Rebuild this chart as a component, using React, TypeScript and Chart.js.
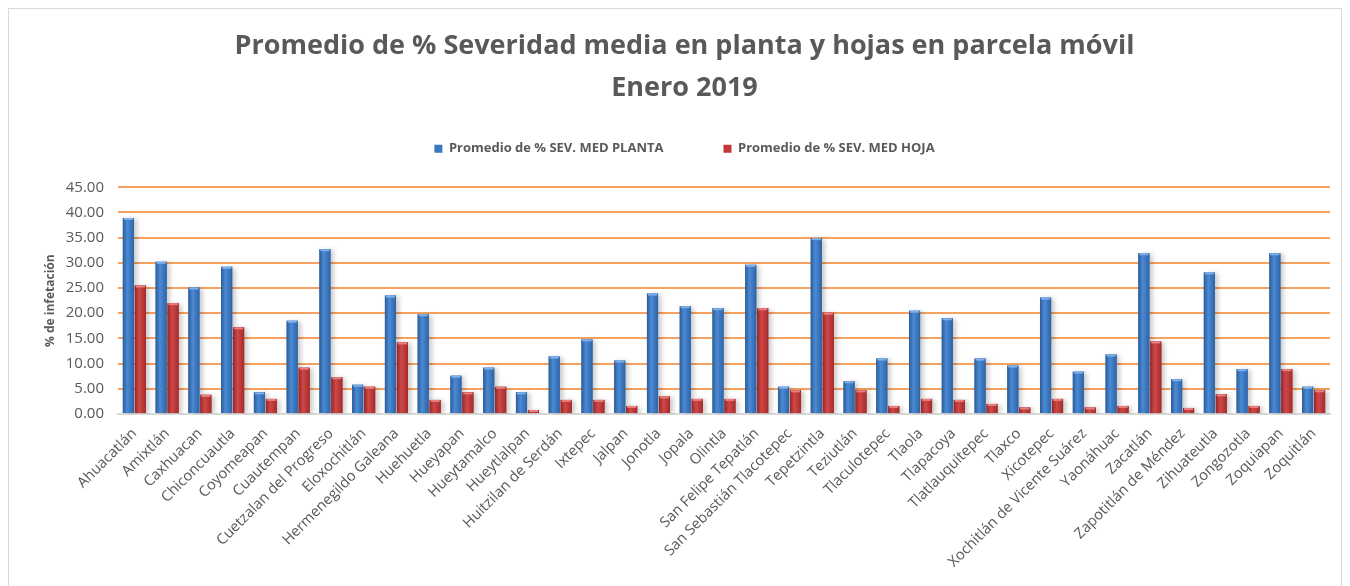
import React, { useEffect, useRef } from "react";
import { Chart, registerables } from "chart.js";

Chart.register(...registerables);

const categories: string[] = [
  "Ahuacatlán", "Amixtlán", "Caxhuacan", "Chiconcuautla", "Coyomeapan", "Cuautempan",
  "Cuetzalan del Progreso", "Eloxochitlán", "Hermenegildo Galeana", "Huehuetla", "Hueyapan",
  "Hueytamalco", "Hueytlalpan", "Huitzilan de Serdán", "Ixtepec", "Jalpan", "Jonotla", "Jopala",
  "Olintla", "San Felipe Tepatlán", "San Sebastián Tlacotepec", "Tepetzintla", "Teziutlán",
  "Tlaculotepec", "Tlaola", "Tlapacoya", "Tlatlauquitepec", "Tlaxco", "Xicotepec",
  "Xochitlán de Vicente Suárez", "Yaonáhuac", "Zacatlán", "Zapotitlán de Méndez", "Zihuateutla",
  "Zongozotla", "Zoquiapan", "Zoquitlán",
];

const sevPlanta: number[] = [
  38.9, 30.2, 25.1, 29.2, 4.3, 18.5, 32.7, 5.8, 23.5, 19.8, 7.6, 9.2, 4.3, 11.4, 14.8, 10.6,
  23.9, 21.4, 21.0, 29.6, 5.4, 34.9, 6.5, 11.0, 20.5, 19.0, 11.0, 9.6, 23.1, 8.4, 11.8, 31.9,
  6.9, 28.1, 8.9, 31.9, 5.4,
];

const sevHoja: number[] = [
  25.5, 22.0, 3.8, 17.2, 3.0, 9.2, 7.3, 5.4, 14.2, 2.8, 4.3, 5.4, 0.8, 2.8, 2.8, 1.6, 3.5, 3.0,
  3.0, 21.0, 4.7, 20.1, 4.7, 1.6, 3.0, 2.8, 2.0, 1.3, 3.0, 1.3, 1.6, 14.4, 1.2, 3.9, 1.6, 8.9, 4.7,
];

const seriesNames: string[] = ["Promedio de % SEV. MED PLANTA", "Promedio de % SEV. MED HOJA"];
const titleLines: string[] = ["Promedio de % Severidad media en planta y hojas en parcela móvil", "Enero 2019"];
const yAxisTitle = "% de infetación";

const FONT = "'Open Sans', 'DejaVu Sans', sans-serif";
const TEXT = "#595959";

const LEGEND_ITEM_GAP = 60;
const LEGEND_VPAD = 10;

const barColors = [
  { edge: "#2a5c99", mid: "#4b8ad3", right: "#2d63a6", top: "#7fb0e8" },
  { edge: "#962626", mid: "#d04848", right: "#a42b2b", top: "#e88080" },
];

const shadowPlugin = {
  id: "barShadow",
  beforeDatasetsDraw(chart: any) {
    const ctx = chart.ctx;
    ctx.save();
    ctx.shadowColor = "rgba(0,0,0,0.22)";
    ctx.shadowBlur = 5;
    ctx.shadowOffsetX = 3;
    ctx.shadowOffsetY = 1;
  },
  afterDatasetsDraw(chart: any) {
    const ctx = chart.ctx;
    ctx.restore();
    chart.data.datasets.forEach((_: any, di: number) => {
      const meta = chart.getDatasetMeta(di);
      const c = barColors[di];
      meta.data.forEach((el: any) => {
        const { x, y, base, width } = el.getProps(["x", "y", "base", "width"], true);
        const left = x - width / 2;
        const g = ctx.createLinearGradient(left, 0, left + width, 0);
        g.addColorStop(0, c.edge);
        g.addColorStop(0.4, c.mid);
        g.addColorStop(1, c.right);
        ctx.fillStyle = g;
        ctx.fillRect(left, y, width, base - y);
        ctx.fillStyle = c.top;
        ctx.fillRect(left + 1, y, width - 2, Math.min(2, base - y));
      });
    });
  },
};

// Legend: wide horizontal spacing between items, but compact vertical size.
const legendGapPlugin = {
  id: "legendGap",
  beforeLayout(chart: any) {
    const lg = chart.legend;
    if (lg && !lg._gapPatched) {
      const origFit = lg.fit;
      lg.fit = function () {
        origFit.call(this);
        this.height = 13 + LEGEND_VPAD * 2 + 22;
      };
      const origDraw = lg.draw;
      lg.draw = function () {
        const t = this.top;
        this.top = t - (LEGEND_ITEM_GAP - LEGEND_VPAD);
        origDraw.call(this);
        this.top = t;
      };
      lg._gapPatched = true;
    }
  },
};

export default function App() {
  const ref = useRef<HTMLCanvasElement | null>(null);

  useEffect(() => {
    document.documentElement.style.overflow = "hidden";
    document.body.style.overflow = "hidden";
    if (!ref.current) return;
    const chart = new Chart(ref.current, {
      type: "bar",
      data: {
        labels: categories,
        datasets: [
          { label: seriesNames[0], data: sevPlanta, backgroundColor: "#3a78c2", borderWidth: 0 },
          { label: seriesNames[1], data: sevHoja, backgroundColor: "#b93333", borderWidth: 0 },
        ],
      },
      options: {
        animation: false,
        responsive: true,
        maintainAspectRatio: false,
        layout: { padding: { left: 30, right: 11, top: 0, bottom: 0 } },
        datasets: { bar: { categoryPercentage: 0.73, barPercentage: 0.93 } },
        plugins: {
          tooltip: { enabled: false },
          title: {
            display: true,
            text: titleLines,
            color: TEXT,
            font: { family: FONT, size: 27, weight: "bold", lineHeight: 1.56 },
            padding: { top: 16, bottom: 23 },
          },
          legend: {
            display: true,
            labels: {
              boxWidth: 8,
              boxHeight: 8,
              padding: LEGEND_ITEM_GAP,
              color: TEXT,
              font: { family: FONT, size: 13, weight: "bold" },
              generateLabels: (ch: any) =>
                ch.data.datasets.map((ds: any, i: number) => ({
                  text: ds.label,
                  fillStyle: i === 0 ? "#3a78c2" : "#c03838",
                  strokeStyle: i === 0 ? "#3a78c2" : "#c03838",
                  lineWidth: 0,
                  fontColor: TEXT,
                  datasetIndex: i,
                  hidden: false,
                })),
            },
          },
        },
        scales: {
          x: {
            grid: { display: false, drawTicks: false },
            border: { display: true, color: "#d9d9d9", width: 2 },
            ticks: {
              autoSkip: false,
              maxRotation: 45,
              minRotation: 45,
              padding: 11,
              color: TEXT,
              font: { family: FONT, size: 14.7 },
            },
            afterFit: (s: any) => {
              s.height = 193;
            },
          },
          y: {
            min: 0,
            max: 45,
            border: { display: false },
            grid: {
              drawTicks: false,
              lineWidth: 2,
              color: (c: any) => (c.tick && c.tick.value === 0 ? "rgba(0,0,0,0)" : "#f6a160"),
            },
            ticks: {
              stepSize: 5,
              autoSkip: false,
              padding: 14,
              color: TEXT,
              font: { family: FONT, size: 15 },
              callback: (v: any) => Number(v).toFixed(2),
            },
            title: {
              display: true,
              text: yAxisTitle,
              color: TEXT,
              font: { family: FONT, size: 12, weight: "bold" },
              padding: { top: 4, bottom: 0 },
            },
            afterFit: (s: any) => {
              s.width = 79;
            },
          },
        },
      },
      plugins: [shadowPlugin, legendGapPlugin],
    } as any);
    return () => chart.destroy();
  }, []);

  return (
    <div
      style={{
        position: "relative",
        width: "100%",
        height: 600,
        border: "1px solid #d9d9d9",
        boxSizing: "border-box",
        background: "#ffffff",
      }}
    >
      <canvas ref={ref} />
    </div>
  );
}
